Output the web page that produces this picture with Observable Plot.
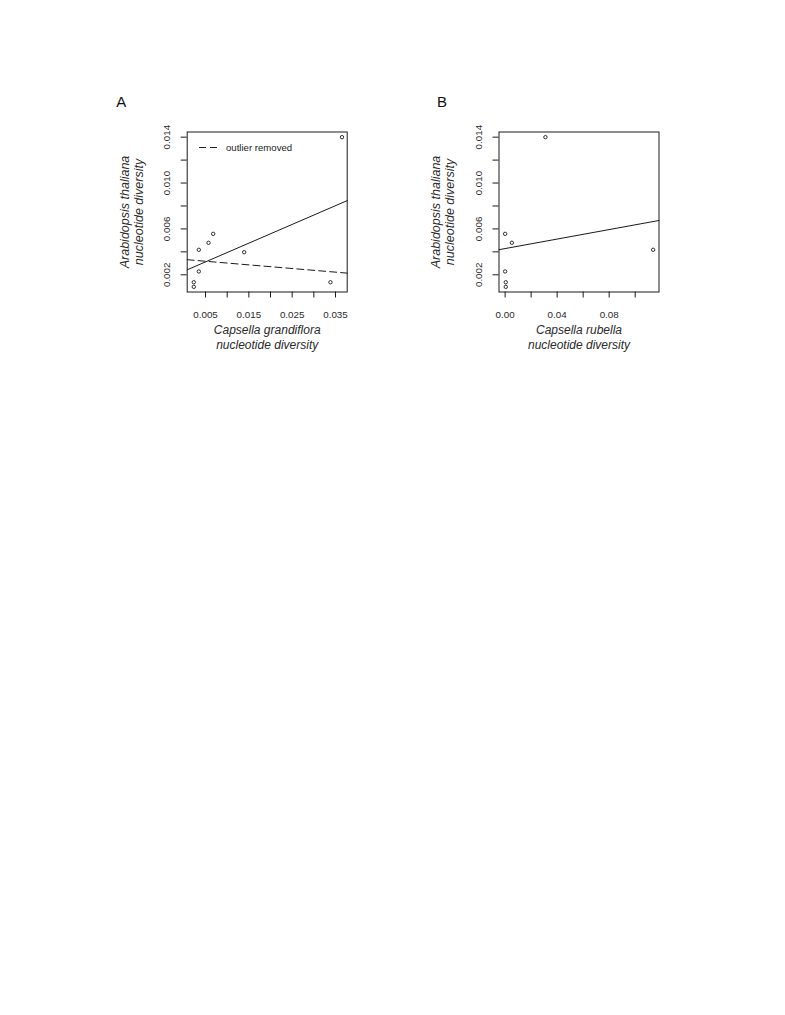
<!DOCTYPE html>
<html>
<head>
<meta charset="utf-8">
<script src="https://cdn.jsdelivr.net/npm/d3@7"></script>
<script src="https://cdn.jsdelivr.net/npm/@observablehq/plot@0.6"></script>
<style>
  html, body { margin: 0; padding: 0; background: #fff; }
  #page { position: relative; width: 785px; height: 1015px; overflow: hidden; font-family: "Liberation Sans", Arial, sans-serif; }
  .panel { position: absolute; }
  #legendA { position: absolute; left: 197px; top: 140px; display: flex; align-items: center; font-size: 9.6px; color: #222; }
</style>
</head>
<body>
<div id="page">
  <div class="panel" id="panelA" style="left:100px; top:85px;"></div>
  <div class="panel" id="panelB" style="left:420px; top:85px;"></div>
  <div id="legendA"><svg width="22" height="14"><line x1="2" y1="7.5" x2="20" y2="7.5" stroke="#222" stroke-width="1" stroke-dasharray="7,4"></line></svg><span style="margin-left:7px">outlier removed</span></div>
</div>
<script>
// ---- data ----
// Panel A: Capsella grandiflora vs Arabidopsis thaliana nucleotide diversity
const xA = [0.0365, 0.00345, 0.00569, 0.00677, 0.01392, 0.00345, 0.00229, 0.00229, 0.03384];
const yA = [0.0140, 0.00418, 0.00479, 0.00557, 0.00397, 0.00229, 0.00135, 0.00095, 0.00135];
// Panel B: Capsella rubella vs Arabidopsis thaliana nucleotide diversity
const xB = [0.0310, 0.0000, 0.0052, 0.1138, 0.0000, 0.0005, 0.0005];
const yB = [0.0140, 0.00557, 0.00479, 0.00418, 0.00229, 0.00135, 0.00095];

// axis ticks and labels
const yTicks = [0.002, 0.004, 0.006, 0.008, 0.010, 0.012, 0.014];
const yLabels = [0.002, 0.006, 0.010, 0.014];
const xTicksA = [0.005, 0.010, 0.015, 0.020, 0.025, 0.030, 0.035];
const xLabelsA = [0.005, 0.015, 0.025, 0.035];
const xTicksB = [0.00, 0.02, 0.04, 0.06, 0.08, 0.10];
const xLabelsB = [0.00, 0.04, 0.08];

const yDomain = [0.0005, 0.01445];
const xDomainA = [0.00077, 0.0377];
const xDomainB = [-0.0047, 0.1183];

const yTitle = "Arabidopsis thaliana\nnucleotide diversity";
const xTitleA = "Capsella grandiflora\nnucleotide diversity";
const xTitleB = "Capsella rubella\nnucleotide diversity";

// ---- helpers ----
function ols(xs, ys) {
  const mx = d3.mean(xs), my = d3.mean(ys);
  const sxy = d3.sum(xs, (x, i) => (x - mx) * (ys[i] - my));
  const sxx = d3.sum(xs, x => (x - mx) * (x - mx));
  const b = sxy / sxx;
  return {a: my - b * mx, b};
}
function fitLine(xs, ys, domain) {
  const {a, b} = ols(xs, ys);
  return domain.map(x => ({x, y: a + b * x}));
}

const INK = "#1a1a1a";
const TXT = "#2a2a2a";

function panel({xs, ys, xDomain, xTicks, xLabels, xFmt, xTitle, letter, letterDx, width, marginLeft, extraLines}) {
  const pts = xs.map((x, i) => ({x, y: ys[i]}));
  const marks = [
    Plot.frame({stroke: INK, strokeWidth: 1}),
    Plot.axisX({ticks: xTicks, tickSize: 6, tickFormat: () => "", label: null, stroke: INK, strokeWidth: 1}),
    Plot.axisY({ticks: yTicks, tickSize: 6, tickFormat: () => "", label: null, stroke: INK, strokeWidth: 1}),
    Plot.text(xLabels, {x: d => d, text: xFmt, frameAnchor: "bottom", dy: 22.5, lineAnchor: "middle", textAnchor: "middle", fontSize: 9.8, fill: TXT}),
    Plot.text(yLabels, {y: d => d, text: d3.format(".3f"), frameAnchor: "left", dx: -20, rotate: -90, lineAnchor: "middle", textAnchor: "middle", fontSize: 9.8, fill: TXT}),
    Plot.text([xTitle], {frameAnchor: "bottom", dy: 45, lineAnchor: "middle", textAnchor: "middle", fontSize: 12, lineHeight: 1.2, fontStyle: "italic", fill: TXT}),
    Plot.text([yTitle], {frameAnchor: "left", dx: -56, rotate: -90, lineAnchor: "middle", textAnchor: "middle", fontSize: 12.5, lineHeight: 1.12, fontStyle: "italic", fill: TXT}),
    Plot.text([letter], {frameAnchor: "top-left", dx: letterDx, dy: -30, lineAnchor: "middle", textAnchor: "middle", fontSize: 15, fill: "#111"}),
    Plot.line(fitLine(xs, ys, xDomain), {x: "x", y: "y", stroke: INK, strokeWidth: 1}),
    ...extraLines,
    Plot.dot(pts, {x: "x", y: "y", r: 1.7, stroke: INK, strokeWidth: 0.9, fill: "none"})
  ];
  return Plot.plot({
    width, height: 275,
    marginTop: 46.5, marginBottom: 68.5, marginLeft, marginRight: width - marginLeft - 160,
    x: {domain: xDomain}, y: {domain: yDomain},
    style: {fontFamily: '"Liberation Sans", Arial, sans-serif', background: "transparent", overflow: "visible", color: INK},
    marks
  });
}

// outlier removed fit (drop the highest y value point) for panel A
const outIdx = d3.maxIndex(yA);
const xA2 = xA.filter((_, i) => i !== outIdx);
const yA2 = yA.filter((_, i) => i !== outIdx);

document.getElementById("panelA").appendChild(panel({
  xs: xA, ys: yA, xDomain: xDomainA, xTicks: xTicksA, xLabels: xLabelsA,
  xFmt: d3.format(".3f"), xTitle: xTitleA, letter: "A", letterDx: -66, width: 265, marginLeft: 86.7,
  extraLines: [Plot.line(fitLine(xA2, yA2, xDomainA), {x: "x", y: "y", stroke: INK, strokeWidth: 1, strokeDasharray: "7,4"})]
}));
document.getElementById("panelB").appendChild(panel({
  xs: xB, ys: yB, xDomain: xDomainB, xTicks: xTicksB, xLabels: xLabelsB,
  xFmt: d3.format(".2f"), xTitle: xTitleB, letter: "B", letterDx: -57, width: 260, marginLeft: 78.5,
  extraLines: []
}));
</script>
</body>
</html>
